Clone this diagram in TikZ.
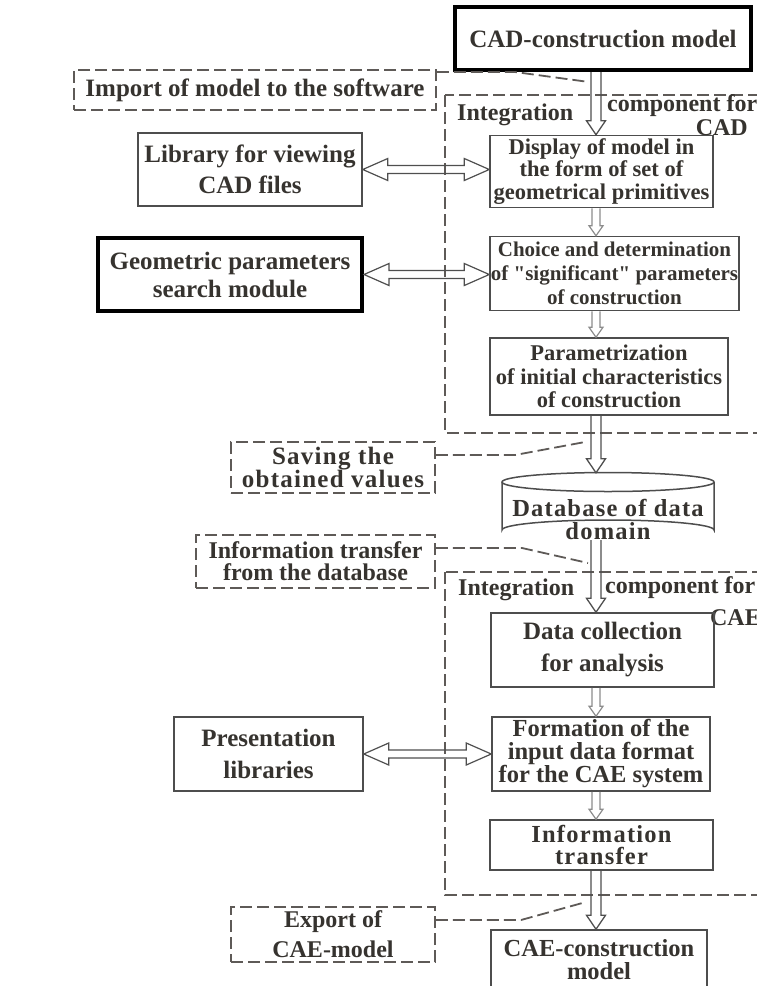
\documentclass[tikz,border=0pt]{standalone}
\usepackage{fontspec}
\setmainfont{Liberation Serif}
\newfontfamily\lsfont[LetterSpace=5]{Liberation Serif}
\newfontfamily\qfont[Ligatures=ResetAll]{Liberation Serif}
\usetikzlibrary{calc}
\definecolor{txt}{HTML}{36332F}
\definecolor{bord}{HTML}{4D4D4D}
\definecolor{dashc}{HTML}{5E5A57}
\definecolor{arrc}{HTML}{4F4F4F}
\definecolor{arrlight}{HTML}{8C8C8C}
\newcommand\fsz[2]{\fontsize{#1}{#2}\selectfont\bfseries}
\newcommand\sq{{\qfont\bfseries"}}
% vertical hollow arrow: style, start, end, shaft half, head half, head length
\newcommand\varrow[6]{%
  \draw[#1] let \p1=#2, \p2=#3 in
   (\x1-#4,\y1) -- (\x1-#4,\y2+#6) -- (\x1-#5,\y2+#6) -- (\x1,\y2) --
   (\x1+#5,\y2+#6) -- (\x1+#4,\y2+#6) -- (\x1+#4,\y1);}
% horizontal double-headed hollow arrow: style, left, right, shaft half, head half, head length
\newcommand\harrow[6]{%
  \draw[#1] let \p1=#2, \p2=#3 in
   (\x1,\y1) -- (\x1+#6,\y1+#5) -- (\x1+#6,\y1+#4) -- (\x2-#6,\y1+#4) --
   (\x2-#6,\y1+#5) -- (\x2,\y1) -- (\x2-#6,\y1-#5) -- (\x2-#6,\y1-#4) --
   (\x1+#6,\y1-#4) -- (\x1+#6,\y1-#5) -- cycle;}
\tikzset{
  box/.style={draw=bord, line width=1.5pt, text=txt, align=center, inner sep=0pt},
  thickbox/.style={draw=black, line width=4pt, text=txt, align=center, inner sep=0pt},
  dbox/.style={draw=dashc, line width=1.8pt, dash pattern=on 12pt off 5pt, text=txt, align=center, inner sep=0pt},
  dline/.style={draw=dashc, line width=1.8pt, dash pattern=on 12pt off 5pt},
  lbl/.style={text=txt, inner sep=0pt, font=\fsz{24}{26}},
  bigarrow/.style={draw=arrc, line width=1.3pt, line join=miter},
  smallarrow/.style={draw=arrlight, line width=1.2pt, line join=miter},
  harr/.style={draw=arrc, line width=1.2pt, line join=miter}
}
\begin{document}
\begin{tikzpicture}[x=1pt,y=-1pt]
\useasboundingbox (0,0) rectangle (757,986);
\coordinate (ax) at (596,0);

% ---- top part (CAD) ----
\node[thickbox, minimum width=296pt, minimum height=63pt, font=\fsz{25}{28}] (cad) at (603,38.5) {CAD-construction model};
\node[dbox, minimum width=362pt, minimum height=40pt, font=\fsz{25}{28}] (import) at (255,90) {Import of model to the software};
\draw[dline] (445,95) rectangle (800,433);
\node[lbl, anchor=west] (int1) at (457,115) {Integration};
\node[lbl, anchor=west] (comp1) at (607,106) {component for};
\node[lbl, anchor=east] (cadl) at (748,127.5) {CAD};

\node[box, minimum width=223pt, minimum height=72pt, font=\fsz{22.5}{22.5}] (display) at (601.5,171.5) {Display of model in\\the form of set of\\geometrical primitives};
\node[box, minimum width=224pt, minimum height=73pt, font=\fsz{25}{31}] (library) at (250,169.5) {Library for viewing\\CAD files};
\node[box, minimum width=249pt, minimum height=74pt, font=\fsz{21}{24}] (choice) at (614.5,273.5) {Choice and determination\\of \sq significant\sq{} parameters\\of construction};
\node[thickbox, minimum width=264pt, minimum height=73pt, font=\fsz{25}{28}] (geom) at (230,274.5) {Geometric parameters\\search module};
\node[box, minimum width=238pt, minimum height=77pt, font=\fsz{22.5}{23.5}] (param) at (609,376.5) {Parametrization\\of initial characteristics\\of construction};

% ---- database ----
\node[dbox, minimum width=204pt, minimum height=51pt, font={\lsfont\fsz{25}{23}}] (saving) at (333,467.5) {Saving the\\obtained values};
\node[inner sep=0pt, minimum width=212pt, minimum height=67pt] (db) at (608,506.5) {};
\draw[draw=bord, line width=1.5pt, fill=white]
  (502,482) -- (502,530) arc[start angle=180, end angle=360, x radius=106, y radius=10] -- (714,482);
\draw[draw=bord, line width=1.5pt] (608,482) ellipse[x radius=106, y radius=9.5];
\node[text=txt, align=center, inner sep=0pt, font={\lsfont\fsz{24.5}{23}}] (dbtext) at (608,519) {Database of data\\domain};
\node[dbox, minimum width=239pt, minimum height=53pt, font=\fsz{24}{22}] (infodb) at (315.5,561.5) {Information transfer\\from the database};

% ---- bottom part (CAE) ----
\draw[dline] (445,572) rectangle (800,895);
\node[lbl, anchor=west] (int2) at (458,590) {Integration};
\node[lbl, anchor=west] (comp2) at (605,588) {component for};
\node[lbl, anchor=east] (cael) at (761,618) {CAE};

\node[box, minimum width=223pt, minimum height=74pt, font=\fsz{25}{32}] (data) at (602.5,650) {Data collection\\for analysis};
\node[box, minimum width=218pt, minimum height=74pt, font=\fsz{24.5}{23}] (formation) at (601,754) {Formation of the\\input data format\\for the CAE system};
\node[box, minimum width=189pt, minimum height=74pt, font=\fsz{25}{32}] (present) at (268.5,754) {Presentation\\libraries};
\node[box, minimum width=223pt, minimum height=50pt, font={\lsfont\fsz{24.5}{22}}] (infotr) at (601.5,845) {Information\\transfer};
\node[dbox, minimum width=204pt, minimum height=55pt, font=\fsz{24}{30}] (export) at (333,934.5) {Export of\\CAE-model};
\node[box, minimum width=216pt, minimum height=60pt, font=\fsz{24.5}{23}] (cae) at (599,960) {CAE-construction\\model};

% ---- vertical arrows ----
\varrow{bigarrow}{(ax |- cad.south)}{(ax |- display.north)}{5pt}{9.5pt}{14pt}
\varrow{smallarrow}{(ax |- display.south)}{(ax |- choice.north)}{4pt}{7pt}{10pt}
\varrow{smallarrow}{(ax |- choice.south)}{(ax |- param.north)}{4pt}{7pt}{10pt}
\varrow{bigarrow}{(ax |- param.south)}{(ax |- db.north)}{5pt}{9.5pt}{14pt}
\varrow{bigarrow}{(ax |- db.south)}{(ax |- data.north)}{5pt}{9.5pt}{14pt}
\varrow{smallarrow}{(ax |- data.south)}{(ax |- formation.north)}{4pt}{7pt}{10pt}
\varrow{smallarrow}{(ax |- formation.south)}{(ax |- infotr.north)}{4pt}{7pt}{10pt}
\varrow{bigarrow}{(ax |- infotr.south)}{(ax |- cae.north)}{5pt}{9.5pt}{14pt}

% ---- horizontal arrows ----
\harrow{harr}{(library.east)}{(display.west |- library.east)}{4pt}{11pt}{25pt}
\harrow{harr}{(geom.east)}{(choice.west |- geom.east)}{4pt}{11pt}{25pt}
\harrow{harr}{(present.east)}{(formation.west |- present.east)}{4pt}{11pt}{25pt}

% ---- dashed connectors ----
\coordinate (k1) at (515,72);  \coordinate (k1e) at (589,82);
\coordinate (k2) at (515,455); \coordinate (k2e) at (585,442);
\coordinate (k3) at (522,548); \coordinate (k3e) at (588,563);
\coordinate (k4) at (521,920); \coordinate (k4e) at (586,902);
\draw[dline] (import.east |- k1) -- (k1) -- (k1e);
\draw[dline] (saving.east |- k2) -- (k2) -- (k2e);
\draw[dline] (infodb.east |- k3) -- (k3) -- (k3e);
\draw[dline] (export.east |- k4) -- (k4) -- (k4e);
\end{tikzpicture}
\end{document}
